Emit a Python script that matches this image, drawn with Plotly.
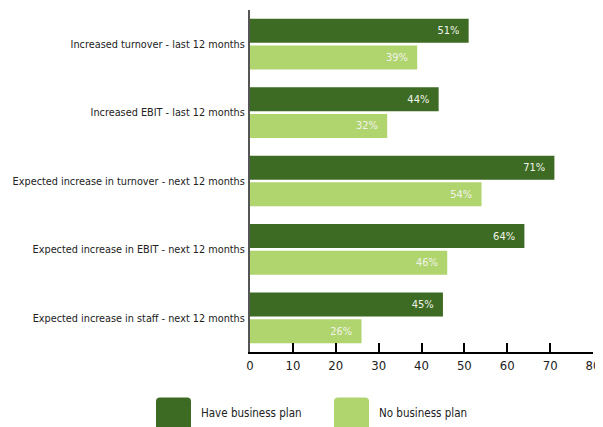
import plotly.graph_objects as go

categories = [
    "Increased turnover - last 12 months",
    "Increased EBIT - last 12 months",
    "Expected increase in turnover - next 12 months",
    "Expected increase in EBIT - next 12 months",
    "Expected increase in staff - next 12 months",
]
have_plan = [51, 44, 71, 64, 45]
no_plan = [39, 32, 54, 46, 26]
series_names = ["Have business plan", "No business plan"]
colors = ["#3d6b23", "#b0d46e"]
x_ticks = [0, 10, 20, 30, 40, 50, 60, 70, 80]

FONT = "DejaVu Sans Condensed, DejaVu Sans, sans-serif"

# page has an 8px body margin, so the figure is offset by 8px
OFF = 8
W, H = 603 - OFF, 427 - OFF
L, R, T, B = 250 - OFF, 10, 10 - OFF, 75
PW, PH = W - L - R, H - T - B


def px(x):
    return (x - OFF - L) / PW


def py(y):
    return (H - B - (y - OFF)) / PH


fig = go.Figure()
for name, vals, col in zip(series_names, [have_plan, no_plan], colors):
    fig.add_trace(go.Bar(
        y=categories, x=vals, name=name, orientation="h",
        marker=dict(color=col, line=dict(width=0)),
        text=[f"{v}%\u00a0\u00a0" for v in vals],
        textposition="inside", insidetextanchor="end",
        textfont=dict(family=FONT, size=11, color="#f0f3ea"),
        hoverinfo="skip",
    ))

fig.update_layout(
    width=W, height=H,
    margin=dict(l=L, r=R, t=T, b=B),
    barmode="group", bargap=0.22, bargroupgap=0.1,
    plot_bgcolor="white", paper_bgcolor="white",
    showlegend=False,
    font=dict(family=FONT, size=11, color="#222222"),
)
fig.update_xaxes(
    range=[0, 80], tickvals=x_ticks, showgrid=False, zeroline=False,
    showline=True, linecolor="#000000", linewidth=2,
    ticks="inside", ticklen=9, tickwidth=2, tickcolor="#000000",
    tickfont=dict(family=FONT, size=13, color="#222222"),
    automargin=False,
)
fig.update_yaxes(
    autorange="reversed", showgrid=False, zeroline=False,
    showline=True, linecolor="#555555", linewidth=2,
    ticks="", ticklabelstandoff=1,
    tickfont=dict(family=FONT, size=10.8, color="#222222"),
    automargin=False,
)

# custom legend (large rounded swatches)
sw_x0 = [156, 334]
sw_w, sw_top, sw_bot, rad = 35, 397.5, 440, 4
for i, (name, col) in enumerate(zip(series_names, colors)):
    x0, x1 = sw_x0[i], sw_x0[i] + sw_w
    path = (
        f"M {px(x0)},{py(sw_bot)} L {px(x0)},{py(sw_top + rad)} "
        f"Q {px(x0)},{py(sw_top)} {px(x0 + rad)},{py(sw_top)} "
        f"L {px(x1 - rad)},{py(sw_top)} "
        f"Q {px(x1)},{py(sw_top)} {px(x1)},{py(sw_top + rad)} "
        f"L {px(x1)},{py(sw_bot)} Z"
    )
    fig.add_shape(type="path", xref="paper", yref="paper", path=path,
                  fillcolor=col, line=dict(width=0), layer="above")
    fig.add_annotation(xref="paper", yref="paper",
                       x=px(x1 + 8), y=py(413),
                       text=name, showarrow=False, xanchor="left", yanchor="middle",
                       font=dict(family=FONT, size=11.5, color="#222222"))

fig.write_html("out.html")
